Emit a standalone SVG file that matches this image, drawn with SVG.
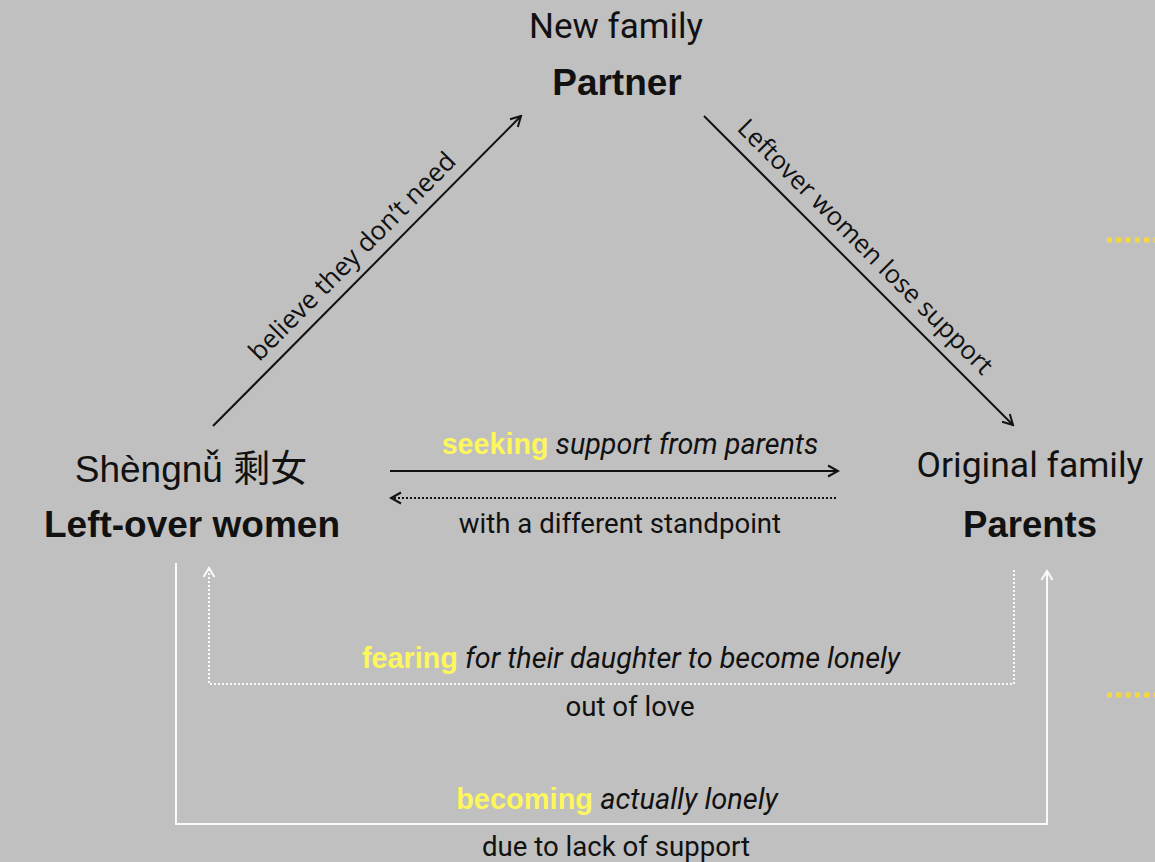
<svg xmlns="http://www.w3.org/2000/svg" width="1155" height="862" viewBox="0 0 1155 862">
  <style>
    .reg { font-family: Roboto, "Noto Sans", sans-serif; fill: #111; }
    .bold { font-family: "Liberation Sans", Arial, sans-serif; font-weight: bold; fill: #111; }
    .ita { font-family: Roboto, "Noto Sans", sans-serif; font-style: italic; fill: #111; }
    .hi { font-family: "Liberation Sans", Arial, sans-serif; font-weight: bold; fill: #fdf65c; }
    .diag { font-family: "Open Sans", "Noto Sans", sans-serif; fill: #111; }
    .blk { stroke: #111; stroke-width: 2; fill: none; }
    .wht { stroke: #fafafa; stroke-width: 2; fill: none; }
    .dot { stroke-dasharray: 2 2; }
    .ydot { stroke: #f4d93a; stroke-width: 5; stroke-dasharray: 5 4.3; fill: none; }
  </style>
  <defs>
    <marker id="arrBlack" markerUnits="userSpaceOnUse" viewBox="-12 -7 14 14" markerWidth="14" markerHeight="14" refX="0" refY="0" orient="auto">
      <path d="M -10 -5.5 L 0 0 L -10 5.5" fill="none" stroke="#111" stroke-width="2"/>
    </marker>
    <marker id="arrWhite" markerUnits="userSpaceOnUse" viewBox="-12 -7 14 14" markerWidth="14" markerHeight="14" refX="0" refY="0" orient="auto">
      <path d="M -9 -5.5 L 0 0 L -9 5.5" fill="none" stroke="#fafafa" stroke-width="2"/>
    </marker>
  </defs>

  <rect x="0" y="0" width="1155" height="862" fill="#c0c0c0"/>

  <!-- yellow dotted leaders at the right edge -->
  <line class="ydot" x1="1107" y1="240" x2="1160" y2="240"/>
  <line class="ydot" x1="1107" y1="695" x2="1160" y2="695"/>

  <g id="node-partner">
    <text class="reg" x="616" y="38" font-size="35" text-anchor="middle">New family</text>
    <text class="bold" x="617" y="95" font-size="37" text-anchor="middle">Partner</text>
  </g>

  <g id="node-leftover">
    <text x="191" y="482" font-size="37" text-anchor="middle" style="font-family: 'Liberation Sans', 'Noto Sans CJK SC', sans-serif; fill: #111;">Shèngnǚ 剩女</text>
    <text class="bold" x="192" y="537" font-size="37" text-anchor="middle">Left-over women</text>
  </g>

  <g id="node-parents">
    <text class="reg" x="1030" y="477" font-size="35.5" text-anchor="middle">Original family</text>
    <text class="bold" x="1030" y="537" font-size="36.5" text-anchor="middle">Parents</text>
  </g>

  <g id="connectors">
    <!-- triangle sides -->
    <line class="blk" x1="213" y1="426" x2="521" y2="116" marker-end="url(#arrBlack)"/>
    <line class="blk" x1="704" y1="116" x2="1013" y2="425" marker-end="url(#arrBlack)"/>
    <!-- between left-over women and parents -->
    <line class="blk" x1="390" y1="471" x2="838" y2="471" marker-end="url(#arrBlack)"/>
    <line class="blk dot" x1="836" y1="498" x2="391" y2="498" marker-end="url(#arrBlack)"/>
    <!-- lower loops -->
    <polyline class="wht dot" points="1014,570 1014,684 209,684 209,568" marker-end="url(#arrWhite)"/>
    <polyline class="wht" points="176,563 176,824 1047,824 1047,571" marker-end="url(#arrWhite)"/>
  </g>

  <g id="labels">
    <g transform="translate(367,271) rotate(-45.2)">
      <text class="diag" x="0" y="-12" font-size="26" text-anchor="middle">believe they don’t need</text>
    </g>
    <g transform="translate(850,262) rotate(45)">
      <text class="diag" x="0" y="-13" font-size="25.5" text-anchor="middle">Leftover women lose support</text>
    </g>

    <text x="630" y="454" font-size="28.7" text-anchor="middle"><tspan class="hi">seeking</tspan><tspan class="ita"> support from parents</tspan></text>
    <text class="reg" x="620" y="533" font-size="27.6" text-anchor="middle">with a different standpoint</text>

    <text x="631" y="668" font-size="28.8" text-anchor="middle"><tspan class="hi">fearing</tspan><tspan class="ita"> for their daughter to become lonely</tspan></text>
    <text class="reg" x="630" y="716" font-size="27.6" text-anchor="middle">out of love</text>

    <text x="617" y="809" font-size="29" text-anchor="middle"><tspan class="hi">becoming</tspan><tspan class="ita"> actually lonely</tspan></text>
    <text class="reg" x="616" y="856" font-size="27.6" text-anchor="middle">due to lack of support</text>
  </g>
</svg>
